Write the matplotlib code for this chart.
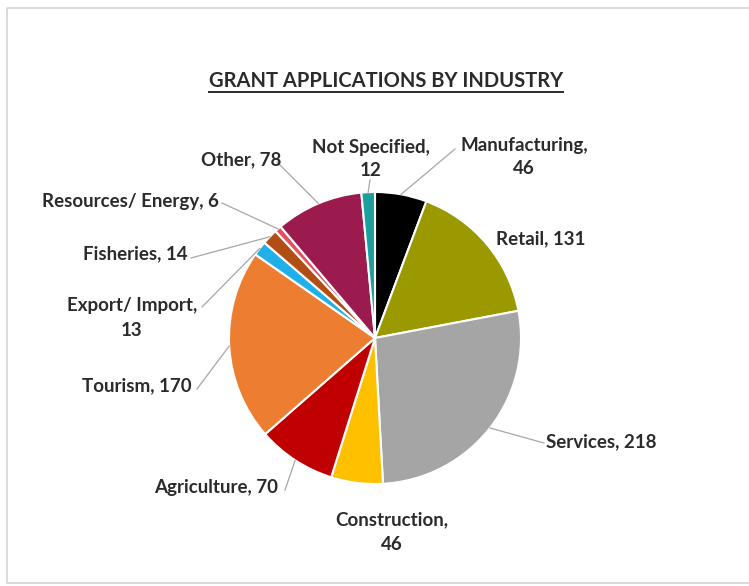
import matplotlib.pyplot as plt
import numpy as np

# grant applications per industry
industries = ["Manufacturing", "Retail", "Services", "Construction", "Agriculture",
              "Tourism", "Export/ Import", "Fisheries", "Resources/ Energy",
              "Other", "Not Specified"]
applications = [46, 131, 218, 46, 70, 170, 13, 14, 6, 78, 12]
colors = ["#000000", "#9a9a00", "#a5a5a5", "#ffc000", "#c00000", "#ed7d31",
          "#1fb0e8", "#b04e14", "#e4505e", "#9b1b4f", "#1c9f9f"]

W, H = 749, 586

# label layout: text centre (x, y from top), two-line label?, leader end point
label_layout = [
    ((524, 157), True, (455, 149)),
    ((541, 239), False, None),
    ((601, 442), False, (544, 443)),
    ((392, 532), True, None),
    ((216, 488), False, (285, 490)),
    ((137, 386), False, (197, 389)),
    ((132, 318), True, (202, 307)),
    ((135, 254), False, (191, 258)),
    ((130, 201), False, (222, 203)),
    ((241, 160), False, (277, 162)),
    ((371, 159), True, (370, 180)),
]

plt.rcParams["font.family"] = ["Lato", "DejaVu Sans"]

fig = plt.figure(figsize=(W / 100, H / 100), dpi=100)
ax = fig.add_axes([0, 0, 1, 1])

cx, cy, r = 375, H - 338, 146
wedges, _ = ax.pie(applications, colors=colors, startangle=90, counterclock=False,
                   center=(cx, cy), radius=r,
                   wedgeprops=dict(edgecolor="white", linewidth=1.5))
ax.set_xlim(0, W)
ax.set_ylim(0, H)
ax.set_aspect("equal")
ax.axis("off")

# outer chart border: left, top and bottom only (right side runs off the canvas)
ax.plot([W, 7, 7, W], [H - 8, H - 8, H - 583, H - 583], color="#d4d4d4", lw=1.2)

for w, name, val, (pos, wrap, end) in zip(wedges, industries, applications, label_layout):
    sep = ",\n" if wrap else ", "
    ax.text(pos[0], H - pos[1], f"{name}{sep}{val}", ha="center", va="center",
            fontsize=13.5, fontweight="bold", color="#2b2b2b", linespacing=1.5)
    if end is not None:
        mid = np.deg2rad((w.theta1 + w.theta2) / 2)
        ax.plot([cx + r * np.cos(mid), end[0]], [cy + r * np.sin(mid), H - end[1]],
                color="#a6a6a6", lw=0.9)

title = ax.text(386, H - 81, "GRANT APPLICATIONS BY INDUSTRY", ha="center",
                va="center", fontsize=14.5, fontweight="bold", color="#2b2b2b")

# underline the title
fig.canvas.draw()
bb = title.get_window_extent().transformed(ax.transData.inverted())
ax.plot([bb.x0, bb.x1], [bb.y0 - 1, bb.y0 - 1], color="#2b2b2b", lw=1.4)

fig.savefig("out.png", dpi=100, facecolor="white")
